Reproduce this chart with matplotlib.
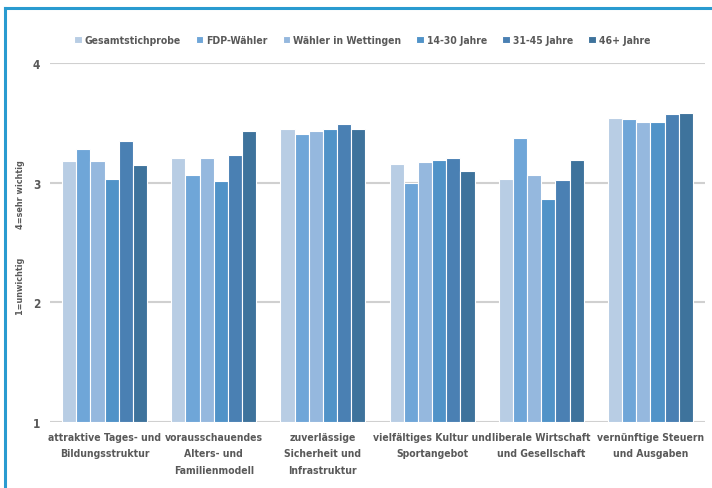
import matplotlib
matplotlib.use("Agg")
import matplotlib.pyplot as plt
from matplotlib.lines import Line2D
import numpy as np

# data
categories = [
    "attraktive Tages- und\nBildungsstruktur",
    "vorausschauendes\nAlters- und\nFamilienmodell",
    "zuverlässige\nSicherheit und\nInfrastruktur",
    "vielfältiges Kultur und\nSportangebot",
    "liberale Wirtschaft\nund Gesellschaft",
    "vernünftige Steuern\nund Ausgaben",
]
series_names = ["Gesamtstichprobe", "FDP-Wähler", "Wähler in Wettingen",
                "14-30 Jahre", "31-45 Jahre", "46+ Jahre"]
gesamt = [3.18, 3.21, 3.45, 3.16, 3.03, 3.54]
fdp = [3.28, 3.06, 3.41, 3.00, 3.37, 3.53]
wettingen = [3.18, 3.21, 3.43, 3.17, 3.06, 3.51]
j14_30 = [3.03, 3.01, 3.45, 3.19, 2.86, 3.51]
j31_45 = [3.35, 3.23, 3.49, 3.21, 3.02, 3.57]
j46 = [3.15, 3.43, 3.45, 3.10, 3.19, 3.58]
yticks = [1, 2, 3, 4]

colors = ["#B8CDE4", "#6FA6D8", "#95B8DE", "#5093C8", "#4A80B3", "#3E739C"]

plt.rcParams["font.family"] = ["DejaVu Sans"]
plt.rcParams["font.stretch"] = "condensed"
txt = "#595959"

fig = plt.figure(figsize=(7.12, 4.89), dpi=100)
ax = fig.add_axes([50 / 712, 1 - 423 / 489, 655 / 712, 359 / 489])

all_series = [gesamt, fdp, wettingen, j14_30, j31_45, j46]
x = np.arange(len(categories))
w = 0.13
for i, (vals, c, n) in enumerate(zip(all_series, colors, series_names)):
    ax.bar(x + (i - 2.5) * w, np.array(vals) - 1, bottom=1, width=w, color=c,
           edgecolor="white", linewidth=0.8, label=n, zorder=3)

ax.set_ylim(1, 4)
ax.set_xlim(-0.5, len(categories) - 0.5)
ax.set_yticks(yticks)
ax.set_yticklabels([str(t) for t in yticks], fontsize=8.5, fontweight="bold", color=txt)
ax.set_xticks(x)
ax.set_xticklabels(categories, fontsize=7.5, fontweight="bold", color=txt,
                   linespacing=1.8)
ax.tick_params(length=0, axis="y", pad=7)
ax.tick_params(length=0, axis="x", pad=7)
ax.yaxis.grid(True, color="#D0D0D0", linewidth=1.5, zorder=0)
for s in ax.spines.values():
    s.set_visible(False)

ax.set_ylabel("1=unwichtig          4=sehr wichtig", fontsize=6.5,
              fontweight="bold", color=txt)
ax.yaxis.set_label_coords(-25 / 655, 0.515)

leg = fig.legend(loc="center", bbox_to_anchor=(362 / 712, 1 - 41 / 489), ncol=6,
                 frameon=False, fontsize=7.5, handlelength=0.75, handleheight=0.75,
                 handletextpad=0.3, columnspacing=1.4)
for t in leg.get_texts():
    t.set_color(txt)
    t.set_fontweight("bold")

# blue frame on left and top
fig.add_artist(Line2D([5 / 712, 5 / 712], [0, 1 - 9 / 489], color="#2A9BD0",
                      linewidth=2.2, transform=fig.transFigure))
fig.add_artist(Line2D([5 / 712, 1], [1 - 9 / 489, 1 - 9 / 489], color="#2A9BD0",
                      linewidth=2.2, transform=fig.transFigure))

fig.savefig("out.png", dpi=100)
